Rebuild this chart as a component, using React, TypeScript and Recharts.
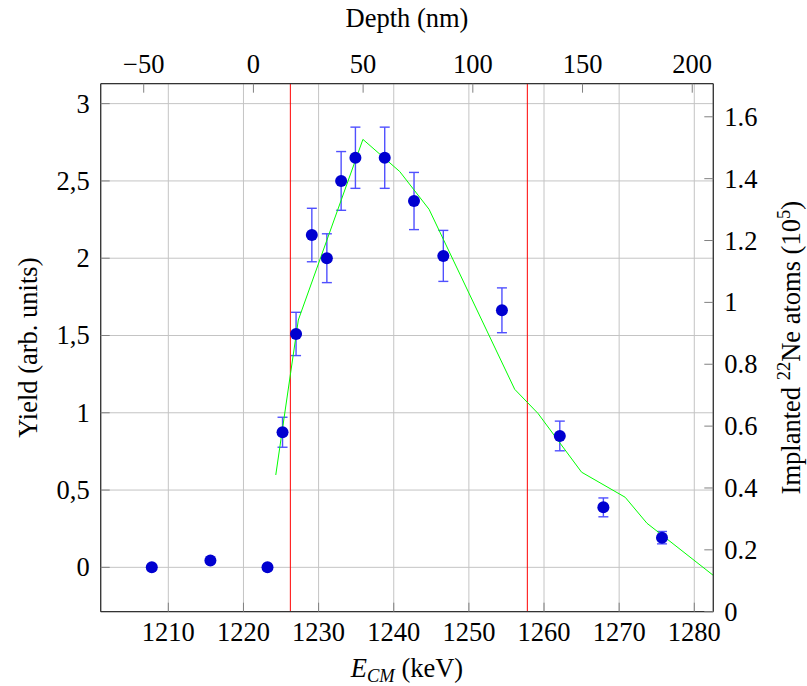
import React from 'react'
import { ComposedChart, Scatter, Line, XAxis, YAxis, CartesianGrid, ReferenceLine, ErrorBar, Label } from 'recharts'

// measured yield (left axis) vs centre-of-mass energy
const energy = [1207.8, 1215.6, 1223.2, 1225.2, 1227.0, 1229.1, 1231.1, 1233.0, 1234.9, 1238.8, 1242.7, 1246.6, 1254.4, 1262.1, 1267.9, 1275.7]
const yieldVals = [0, 0.045, 0, 0.874, 1.51, 2.15, 2.0, 2.5, 2.65, 2.65, 2.37, 2.015, 1.663, 0.85, 0.388, 0.192]
const yieldErr = [0.01, 0.01, 0.01, 0.097, 0.14, 0.173, 0.158, 0.19, 0.198, 0.198, 0.185, 0.165, 0.145, 0.096, 0.061, 0.04]

// implantation profile (right axis)
const profileEnergy = [1224.3, 1227.3, 1235.9, 1240.8, 1244.7, 1256.1, 1259.2, 1265.0, 1270.8, 1273.7, 1282.5]
const profileAtoms = [0.442, 0.943, 1.527, 1.423, 1.301, 0.719, 0.641, 0.451, 0.37, 0.286, 0.118]

// red markers
const windowEdges = [1226.24, 1257.78]

const energyTicks = [1210, 1220, 1230, 1240, 1250, 1260, 1270, 1280]
const depthTicks = [-50, 0, 50, 100, 150, 200]
const yieldTicks = [0, 0.5, 1, 1.5, 2, 2.5, 3]
const atomTicks = [0, 0.2, 0.4, 0.6, 0.8, 1, 1.2, 1.4, 1.6]

const energyDomain = [1201, 1282.53]
const depthDomain = [-69.6, 209.6]
const yieldDomain = [-0.287, 3.129]
const atomDomain = [0, 1.707]

const points = energy.map((e, i) => ({ e, y: yieldVals[i], err: yieldErr[i] }))
const profile = profileEnergy.map((e, i) => ({ e, v: profileAtoms[i] }))
// only there so the top depth axis gets a scale; drawn with no stroke
const depthAnchor = depthTicks.map((d) => ({ e: d, y: 0 }))

const FONT = 'Liberation Serif'
const FS = 26.5
const SUB = 18.5
const axisLine = { stroke: '#333', strokeWidth: 1.3 }
const tickLine = { stroke: '#808080', strokeWidth: 1 }
const blank = () => ''

const makeTick = (side: string, fmt: (v: number) => string) => (p: any) => {
  const anchor = side === 'left' ? 'end' : side === 'right' ? 'start' : 'middle'
  const dy = side === 'bottom' ? '0.68em' : side === 'top' ? '0' : '0.34em'
  return (
    <text x={p.x} y={p.y} dy={dy} textAnchor={anchor} fontFamily={FONT} fontSize={FS} fill="#000">
      {fmt(p.payload.value)}
    </text>
  )
}

const dot = (p: any) => <circle cx={p.cx} cy={p.cy} r={6} fill="#0000d0" />

export default function App() {
  return (
    <div style={{ position: 'absolute', left: 0, top: 0 }}>
      <ComposedChart width={807} height={686} margin={{ top: 0, right: 0, bottom: 0, left: 0 }}>
        <CartesianGrid xAxisId="bottom" yAxisId="left" stroke="#c4c4c4" strokeWidth={1} />
        <XAxis xAxisId="bottom" dataKey="e" type="number" orientation="bottom" domain={energyDomain} allowDataOverflow
          ticks={energyTicks} interval={0} height={74.3} tickSize={-9} tickMargin={20}
          tick={makeTick('bottom', (v) => String(v))} axisLine={axisLine} tickLine={tickLine}>
          <Label content={(p: any) => {
            const vb = p.viewBox
            return (
              <text x={vb.x + vb.width / 2} y={vb.y + 65} textAnchor="middle" fontFamily={FONT} fontSize={FS} fill="#000">
                <tspan fontStyle="italic">E</tspan>
                <tspan fontStyle="italic" fontSize={SUB} dy={5}>CM</tspan>
                <tspan dy={-5}> (keV)</tspan>
              </text>
            )
          }} />
        </XAxis>
        <XAxis xAxisId="eTop" dataKey="e" type="number" orientation="top" domain={energyDomain} allowDataOverflow
          ticks={energyTicks} interval={0} height={0} tickSize={-9} tickFormatter={blank}
          axisLine={axisLine} tickLine={tickLine} />
        <XAxis xAxisId="depth" dataKey="e" type="number" orientation="top" domain={depthDomain} allowDataOverflow
          ticks={depthTicks} interval={0} height={83.7} tickSize={-9} tickMargin={20}
          tick={makeTick('top', (v) => (v < 0 ? '\u2212' + Math.abs(v) : String(v)))}
          axisLine={axisLine} tickLine={tickLine}>
          <Label content={(p: any) => {
            const vb = p.viewBox
            return (
              <text x={vb.x + vb.width / 2} y={27} textAnchor="middle" fontFamily={FONT} fontSize={FS} fill="#000">
                Depth (nm)
              </text>
            )
          }} />
        </XAxis>
        <YAxis yAxisId="left" dataKey="y" type="number" orientation="left" domain={yieldDomain} allowDataOverflow
          ticks={yieldTicks} interval={0} width={100.7} tickSize={-9} tickMargin={20}
          tick={makeTick('left', (v) => String(v).replace('.', ','))} axisLine={axisLine} tickLine={tickLine}>
          <Label content={(p: any) => {
            const vb = p.viewBox
            const cy = vb.y + vb.height / 2
            return (
              <text x={37} y={cy} transform={`rotate(-90, 37, ${cy})`} textAnchor="middle" fontFamily={FONT} fontSize={FS} fill="#000">
                Yield (arb. units)
              </text>
            )
          }} />
        </YAxis>
        <YAxis yAxisId="leftMirror" dataKey="y" type="number" orientation="right" domain={yieldDomain} allowDataOverflow
          ticks={yieldTicks} interval={0} width={0} tickSize={-9} tickFormatter={blank}
          axisLine={axisLine} tickLine={tickLine} />
        <YAxis yAxisId="right" dataKey="v" type="number" orientation="right" domain={atomDomain} allowDataOverflow
          ticks={atomTicks} interval={0} width={93.7} tickSize={-9} tickMargin={20}
          tick={makeTick('right', (v) => String(v))} axisLine={axisLine} tickLine={tickLine}>
          <Label content={(p: any) => {
            const vb = p.viewBox
            const cy = vb.y + vb.height / 2
            return (
              <text x={800} y={cy} transform={`rotate(-90, 800, ${cy})`} textAnchor="middle" fontFamily={FONT} fontSize={FS} fill="#000">
                Implanted <tspan fontSize={SUB} dy={-10}>22</tspan>
                <tspan dy={10}>Ne atoms (10</tspan>
                <tspan fontSize={SUB} dy={-10}>5</tspan>
                <tspan dy={10}>)</tspan>
              </text>
            )
          }} />
        </YAxis>
        {windowEdges.map((x) => (
          <ReferenceLine key={x} x={x} xAxisId="bottom" yAxisId="left" stroke="#ff0000" strokeWidth={1} />
        ))}
        <Line data={points} xAxisId="eTop" yAxisId="leftMirror" dataKey="y" stroke="none" dot={false} activeDot={false} isAnimationActive={false} />
        <Line data={depthAnchor} xAxisId="depth" yAxisId="left" dataKey="y" stroke="none" dot={false} activeDot={false} isAnimationActive={false} />
        <Scatter data={points} xAxisId="bottom" yAxisId="left" dataKey="y" shape={dot} isAnimationActive={false}>
          <ErrorBar dataKey="err" direction="y" width={5} stroke="#5050ff" strokeWidth={1.4} isAnimationActive={false} />
        </Scatter>
        <Line data={profile} xAxisId="bottom" yAxisId="right" dataKey="v" type="linear" stroke="#00ff00" strokeWidth={1}
          dot={false} activeDot={false} isAnimationActive={false} />
      </ComposedChart>
    </div>
  )
}
